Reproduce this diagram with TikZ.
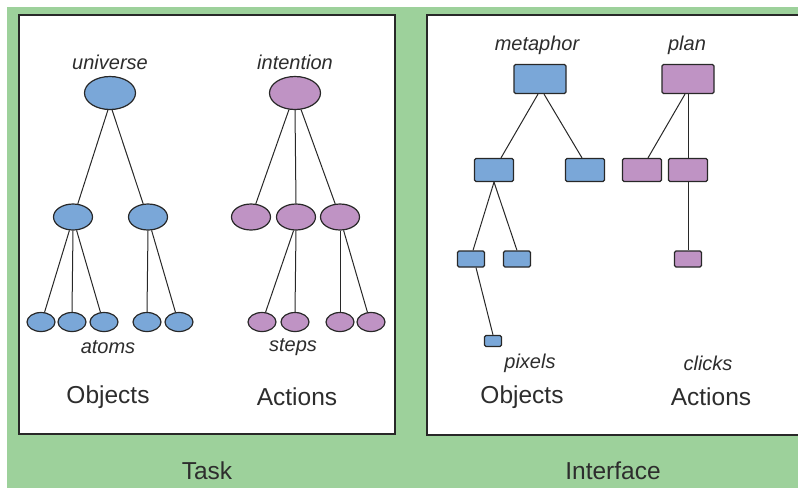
\documentclass[tikz,border=0pt]{standalone}
\usepackage{fontspec}
\setmainfont{Liberation Sans}
\usetikzlibrary{shapes.geometric}
\definecolor{bggreen}{RGB}{157,209,155}
\definecolor{objblue}{RGB}{122,167,216}
\definecolor{actpurple}{RGB}{191,147,196}
\definecolor{ink}{RGB}{40,40,40}
\definecolor{txt}{RGB}{45,45,45}
\tikzset{
  panel/.style={draw=ink, line width=1.3pt, fill=white},
  ell/.style={ellipse, draw=ink, line width=1.2pt, inner sep=0pt},
  box/.style={rectangle, rounded corners=1.5pt, draw=ink, line width=1.2pt, inner sep=0pt},
  big/.style={minimum width=51pt, minimum height=33pt},
  mid/.style={minimum width=39pt, minimum height=26pt},
  leaf/.style={minimum width=28pt, minimum height=19pt},
  rbig/.style={minimum width=52pt, minimum height=29pt},
  rmid/.style={minimum width=39pt, minimum height=23pt},
  rsmall/.style={minimum width=27pt, minimum height=16pt},
  rtiny/.style={minimum width=17pt, minimum height=11pt},
  ob/.style={fill=objblue},
  ac/.style={fill=actpurple},
  edge/.style={draw=ink, line width=1pt},
  lab/.style={text=txt, font=\fontsize{20}{24}\selectfont\itshape, inner sep=0pt},
  head/.style={text=txt, font=\fontsize{24.5}{28}\selectfont, inner sep=0pt},
}
\begin{document}
\begin{tikzpicture}[x=1pt, y=-1pt]
\clip (0,0) rectangle (798,488);
\useasboundingbox (0,0) rectangle (798,488);
\fill[white] (0,0) rectangle (798,488);
\fill[bggreen] (7,7) rectangle (798,488);
\draw[panel] (19,15) rectangle (395,434);
\draw[panel] (427,15) rectangle (815,435);

% ---------- Task: Objects ----------
\node[lab] (universe) at (110,62) {universe};
\node[ell,big,ob] (u) at (110,93) {};
\node[ell,mid,ob] (u1) at (73,217) {};
\node[ell,mid,ob] (u2) at (148,217) {};
\node[ell,leaf,ob] (a1) at (41,322) {};
\node[ell,leaf,ob] (a2) at (72,322) {};
\node[ell,leaf,ob] (a3) at (104,322) {};
\node[ell,leaf,ob] (a4) at (147,322) {};
\node[ell,leaf,ob] (a5) at (179,322) {};
\draw[edge] (u.-97) -- (u1.70);
\draw[edge] (u.-83) -- (u2.110);
\draw[edge] (u1.-105) -- (a1.70);
\draw[edge] (u1.south) -- (a2.north);
\draw[edge] (u1.-75) -- (a3.110);
\draw[edge] (u2.south) -- (a4.north);
\draw[edge] (u2.-75) -- (a5.110);
\node[lab] (atoms) at (108,347) {atoms};
\node[head] (tobj) at (108,397) {Objects};

% ---------- Task: Actions ----------
\node[lab] (intention) at (295,62) {intention};
\node[ell,big,ac] (i) at (295,93) {};
\node[ell,mid,ac] (i1) at (251,217) {};
\node[ell,mid,ac] (i2) at (296,217) {};
\node[ell,mid,ac] (i3) at (340,217) {};
\node[ell,leaf,ac] (s1) at (262,322) {};
\node[ell,leaf,ac] (s2) at (295,322) {};
\node[ell,leaf,ac] (s3) at (340,322) {};
\node[ell,leaf,ac] (s4) at (371,322) {};
\draw[edge] (i.-110) -- (i1.70);
\draw[edge] (i.south) -- (i2.north);
\draw[edge] (i.-70) -- (i3.110);
\draw[edge] (i2.-100) -- (s1.70);
\draw[edge] (i2.south) -- (s2.north);
\draw[edge] (i3.south) -- (s3.north);
\draw[edge] (i3.-75) -- (s4.110);
\node[lab] (steps) at (293,347) {steps};
\node[head] (tact) at (297,397) {Actions};

\node[head] (task) at (207,471) {Task};

% ---------- Interface: Objects ----------
\node[lab] (metaphor) at (537,45) {metaphor};
\node[box,rbig,ob] (m) at (540,79) {};
\node[box,rmid,ob] (m1) at (494,170) {};
\node[box,rmid,ob] (m2) at (585,170) {};
\node[box,rsmall,ob] (p1) at (471,259) {};
\node[box,rsmall,ob] (p2) at (517,259) {};
\node[box,rtiny,ob] (px) at (493,341) {};
\draw[edge] ([xshift=-2pt]m.south) -- ([xshift=7pt]m1.north);
\draw[edge] ([xshift=4pt]m.south) -- ([xshift=-3pt]m2.north);
\draw[edge] (m1.south) -- ([xshift=2pt]p1.north);
\draw[edge] (m1.south) -- (p2.north);
\draw[edge] ([xshift=5pt]p1.south) -- (px.north);
\node[lab] (pixels) at (530,363) {pixels};
\node[head] (iobj) at (522,397) {Objects};

% ---------- Interface: Actions ----------
\node[lab] (plan) at (687,45) {plan};
\node[box,rbig,ac] (pl) at (688,79) {};
\node[box,rmid,ac] (q1) at (642,170) {};
\node[box,rmid,ac] (q2) at (688,170) {};
\node[box,rsmall,ac] (c1) at (688,259) {};
\draw[edge] ([xshift=-3pt]pl.south) -- ([xshift=6pt]q1.north);
\draw[edge] (pl.south) -- (q2.north);
\draw[edge] (q2.south) -- (c1.north);
\node[lab] (clicks) at (708,363) {clicks};
\node[head] (iact) at (711,397) {Actions};

\node[head] (interface) at (613,471) {Interface};
\end{tikzpicture}
\end{document}
